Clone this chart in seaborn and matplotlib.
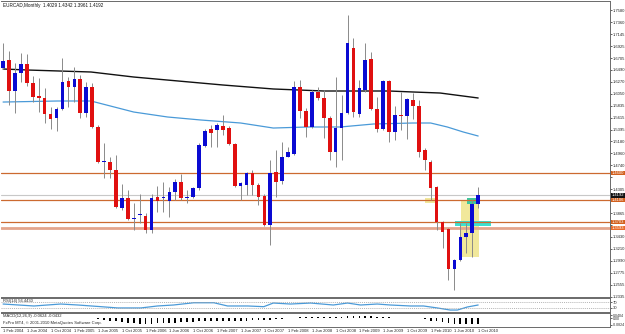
"""EURCAD monthly candlestick chart in the style of a MetaTrader window."""

import matplotlib

matplotlib.use("Agg")
import matplotlib.pyplot as plt
import numpy as np
import pandas as pd
import seaborn as sns
from matplotlib.patches import Rectangle

# Monthly candles, Feb 2004 .. Oct 2010
opens = [1.6523, 1.6670, 1.6102, 1.6431, 1.6596, 1.6248, 1.6010, 1.5974, 1.5680, 1.5607,
         1.5772, 1.6285, 1.6175, 1.6322, 1.5699, 1.6175, 1.5443, 1.4802, 1.4802, 1.4655,
         1.3960, 1.4141, 1.3758, 1.3831, 1.3813, 1.3557, 1.4161, 1.4141, 1.4088, 1.4252,
         1.4436, 1.4141, 1.4161, 1.4326, 1.5095, 1.5406, 1.5388, 1.5461, 1.5424, 1.5131,
         1.4356, 1.4381, 1.4600, 1.4381, 1.4179, 1.3648, 1.4619, 1.4454, 1.4893, 1.4948,
         1.6175, 1.5735, 1.5443, 1.6084, 1.5974, 1.5607, 1.4985, 1.5424, 1.5699, 1.6889,
         1.5680, 1.6120, 1.6688, 1.5772, 1.5406, 1.6285, 1.5351, 1.5662, 1.5644, 1.5937,
         1.5827, 1.5022, 1.4802, 1.4344, 1.3703, 1.3575, 1.2843, 1.3007, 1.3428, 1.3501,
         1.4029]
highs = [1.6981, 1.6834, 1.6615, 1.6798, 1.6779, 1.6376, 1.6340, 1.6157, 1.5809, 1.5809,
         1.6706, 1.6358, 1.6541, 1.6395, 1.6267, 1.6248, 1.5479, 1.5150, 1.4893, 1.4930,
         1.4399, 1.4289, 1.4051, 1.4216, 1.3868, 1.4216, 1.4356, 1.4436, 1.4344, 1.4490,
         1.4582, 1.4289, 1.4344, 1.5150, 1.5406, 1.5479, 1.5516, 1.5662, 1.5461, 1.5150,
         1.4436, 1.4619, 1.4655, 1.4417, 1.4216, 1.4838, 1.5022, 1.5168, 1.5077, 1.6285,
         1.6303, 1.5790, 1.6120, 1.6175, 1.6120, 1.5644, 1.6358, 1.6029, 1.7493, 1.7072,
         1.6303, 1.6981, 1.6816, 1.5992, 1.6303, 1.6303, 1.5827, 1.6084, 1.5974, 1.6065,
         1.5937, 1.5059, 1.4838, 1.4356, 1.3720, 1.3593, 1.3026, 1.3685, 1.3685, 1.4106,
         1.4342]
lows = [1.6505, 1.5845, 1.5699, 1.6267, 1.6193, 1.5900, 1.5717, 1.5516, 1.5406, 1.5369,
        1.5754, 1.5809, 1.5900, 1.5607, 1.5626, 1.5424, 1.4783, 1.4509, 1.4509, 1.3960,
        1.3923, 1.3740, 1.3557, 1.3685, 1.3501, 1.3501, 1.3886, 1.3886, 1.3795, 1.4106,
        1.4106, 1.4051, 1.4141, 1.4289, 1.5077, 1.5077, 1.5077, 1.5296, 1.5113, 1.4344,
        1.4106, 1.4198, 1.4198, 1.4015, 1.3630, 1.3282, 1.4161, 1.4399, 1.4893, 1.4930,
        1.5607, 1.5260, 1.5424, 1.5937, 1.5241, 1.4838, 1.4710, 1.4838, 1.5680, 1.5626,
        1.5626, 1.6084, 1.5754, 1.5351, 1.5388, 1.5168, 1.5205, 1.5388, 1.5223, 1.5589,
        1.4893, 1.4655, 1.4106, 1.3557, 1.3227, 1.2641, 1.2458, 1.2990, 1.3135, 1.3062,
        1.3961]
closes = [1.6651, 1.6102, 1.6431, 1.6596, 1.6248, 1.5992, 1.5974, 1.5680, 1.5589, 1.5772,
          1.6267, 1.6175, 1.6322, 1.5699, 1.6175, 1.5443, 1.4802, 1.4820, 1.4655, 1.3978,
          1.4141, 1.3758, 1.3770, 1.3840, 1.3557, 1.4141, 1.4088, 1.4150, 1.4252, 1.4436,
          1.4141, 1.4161, 1.4326, 1.5113, 1.5369, 1.5333, 1.5479, 1.5388, 1.5131, 1.4356,
          1.4417, 1.4600, 1.4381, 1.4161, 1.3648, 1.4600, 1.4436, 1.4893, 1.4985, 1.6175,
          1.5735, 1.5443, 1.6084, 1.5974, 1.5607, 1.4985, 1.5424, 1.5699, 1.6981, 1.5717,
          1.6157, 1.6670, 1.5772, 1.5406, 1.6285, 1.5351, 1.5662, 1.5644, 1.5955, 1.5827,
          1.4985, 1.4838, 1.4326, 1.3703, 1.3520, 1.2843, 1.3007, 1.3428, 1.3501, 1.4033,
          1.4192]

# moving averages, read at a few points along each line (candle index, price)
ma_slow_idx = [0, 4.2, 14.8, 22, 33.3, 37, 45.5, 54, 65, 69, 73.6, 80]
ma_slow = [1.6505, 1.6486, 1.6450, 1.6358, 1.6248, 1.6212, 1.6139, 1.6102, 1.6102, 1.6084,
           1.6065, 1.5974]
ma_fast_idx = [0, 9.2, 14.8, 22, 27.7, 33.3, 40, 45.5, 51.3, 56.8, 62.4, 69, 72, 74.8, 77.5, 80]
ma_fast = [1.5900, 1.5919, 1.5919, 1.5717, 1.5626, 1.5571, 1.5516, 1.5424, 1.5443, 1.5443,
           1.5498, 1.5516, 1.5516, 1.5443, 1.5351, 1.5278]

# oscillator in the middle panel
rsi_idx = [0, 5.2, 9.7, 12.6, 16.5, 19.3, 23.2, 26, 28.7, 32.1, 35.5, 37.8, 41.2, 43.9, 45.5,
           48.4, 51.8, 55.6, 58, 60.2, 63, 65.2, 68.6, 70.8, 73.1, 75.3, 76.5, 78.2, 80]
rsi = [57, 43, 57, 50, 38, 29, 29, 43, 50, 66, 66, 43, 43, 38, 64, 57, 64, 50, 64, 50, 57,
       50, 43, 43, 29, 14, 14, 36, 50]

# histogram in the bottom panel, one bar per candle
hist = [0.004, 0.004, 0.004, 0.004, 0.004, 0.003, 0.003, 0.002, 0.002, 0.003,
        0.003, 0.003, 0.002, 0.002, 0.002, 0.001, -0.01, -0.02, -0.03, -0.04,
        -0.05, -0.06, -0.06, -0.07, -0.07, -0.07, -0.06, -0.06, -0.06, -0.06,
        -0.05, -0.05, -0.05, -0.04, -0.04, -0.03, -0.03, -0.03, -0.03, -0.03,
        -0.03, -0.03, -0.02, -0.02, -0.02, -0.02, -0.01, -0.01, 0.005, 0.01,
        0.02, 0.02, 0.02, 0.02, 0.02, 0.02, 0.02, 0.02, 0.03, 0.03,
        0.03, 0.03, 0.03, 0.02, 0.02, 0.02, 0.01, 0.005, 0.003, 0.002,
        0.001, -0.01, -0.03, -0.04, -0.05, -0.06, -0.07, -0.07, -0.07, -0.07,
        -0.07]
hist_ticks = [0.0404, 0.0, -0.0824]
hist_tick_labels = ["0.0404", "0.00", "-0.0824"]

date_labels = ["1 Feb 2004", "1 Jun 2004", "1 Oct 2004", "1 Feb 2005", "1 Jun 2005",
               "1 Oct 2005", "1 Feb 2006", "1 Jun 2006", "1 Oct 2006", "1 Feb 2007",
               "1 Jun 2007", "1 Oct 2007", "1 Feb 2008", "1 Jun 2008", "1 Oct 2008",
               "1 Feb 2009", "1 Jun 2009", "1 Oct 2009", "1 Feb 2010", "1 Jun 2010",
               "1 Oct 2010"]
price_ticks = [1.7580, 1.7360, 1.7145, 1.6925, 1.6705, 1.6490, 1.6270, 1.6050, 1.5835,
               1.5615, 1.5395, 1.5180, 1.4960, 1.4740, 1.4520, 1.4305, 1.4085, 1.3865,
               1.3650, 1.3430, 1.3210, 1.2990, 1.2775, 1.2555, 1.2335]

# support / resistance levels drawn by hand on the chart
levels = [1.4600, 1.4106, 1.3703]
level_soft = 1.3593
bid = 1.4192

sns.set_theme(style="white")
plt.rcParams["font.family"] = ["Liberation Sans", "DejaVu Sans"]
FS = 3.0

frame = pd.DataFrame({"open": opens, "high": highs, "low": lows, "close": closes})
frame["idx"] = np.arange(len(frame))
frame["up"] = frame["close"] >= frame["open"]

fig = plt.figure(figsize=(6.25, 3.34), dpi=100)
W, H = 625, 334


def panel(top, bottom):
    return fig.add_axes([1 / W, 1 - bottom / H, 609 / W, (bottom - top) / H])


ax = panel(1, 297)
ax_rsi = panel(298, 312)
ax_h = panel(313, 327)

XMIN, XMAX = -0.35, 102.2
YMIN, YMAX = 1.2330, 1.7750
wick_c = "#8a8a8a"
up_c, dn_c = "#0a0ad2", "#e01010"

# highlight boxes (behind candles)
ax.add_patch(Rectangle((77.1, 1.3062), 3.1, 1.4106 - 1.3062, fc="#efe48a", ec="none", alpha=0.85, zorder=1))
ax.add_patch(Rectangle((71.1, 1.4051), 1.7, 1.4141 - 1.4051, fc="#efe48a", ec="none", alpha=0.85, zorder=1))
ax.add_patch(Rectangle((76.1, 1.3630), 6.1, 1.3721 - 1.3630, fc="#3de0d0", ec="none", zorder=1))
ax.add_patch(Rectangle((78.2, 1.4033), 1.7, 1.4141 - 1.4033, fc="#3cc8a0", ec="none", zorder=1))

# horizontal levels
for lv in levels:
    ax.axhline(lv, color="#cc6a30", lw=0.9, zorder=2)
ax.axhline(level_soft, color="#e3a58c", lw=2.0, zorder=2)
ax.axhline(bid, color="#c8c8c8", lw=0.8, zorder=2)

# moving averages
sns.lineplot(x=ma_slow_idx, y=ma_slow, ax=ax, color="#111111", lw=1.0, zorder=3)
sns.lineplot(x=ma_fast_idx, y=ma_fast, ax=ax, color="#4a9ad8", lw=0.9, zorder=3)

# candles
ax.vlines(frame["idx"], frame["low"], frame["high"], color=wick_c, lw=0.7, zorder=4)
body = (frame["close"] - frame["open"]).abs().clip(lower=0.0012)
base = frame[["open", "close"]].min(axis=1)
ax.bar(frame["idx"], body, bottom=base, width=0.62,
       color=np.where(frame["up"], up_c, dn_c), edgecolor="none", zorder=5)

ax.set_xlim(XMIN, XMAX)
ax.set_ylim(YMIN, YMAX)
ax.set_xticks([])
ax.yaxis.tick_right()
ax.set_yticks(price_ticks)

# the coloured tags cover the scale labels they sit on, as in the terminal
tags = [(levels[0], "#d2601e"), (levels[1], "#d2601e"), (levels[2], "#d2601e"),
        (level_soft, "#e86a2a"), (bid, "#111111")]
px_per_unit = 296 / (YMAX - YMIN)
ax.set_yticklabels([
    "" if min(abs(t - v) for v, _ in tags) * px_per_unit < 4.5 else f"{t:.4f}"
    for t in price_ticks
])
ax.tick_params(axis="y", labelsize=FS, length=1.5, width=0.5, pad=0.6, colors="#222222")
ax.text(0.003, 0.994, "EURCAD,Monthly  1.4029 1.4342 1.3961 1.4192", transform=ax.transAxes,
        fontsize=FS + 0.3, va="top", ha="left", color="#111111")

trans = ax.get_yaxis_transform()
for val, col in tags:
    ax.text(1.003, val, f"{val:.4f}", transform=trans, fontsize=FS, color="white",
            va="center", ha="left", clip_on=False, zorder=10,
            bbox=dict(fc=col, ec="none", pad=0.25))

# RSI panel
sns.lineplot(x=rsi_idx, y=rsi, ax=ax_rsi, color="#4a9ad8", lw=0.9)
for lv in (70, 30):
    ax_rsi.axhline(lv, color="#9a9a9a", lw=0.5, ls=(0, (1.5, 1.5)))
ax_rsi.set_xlim(XMIN, XMAX)
ax_rsi.set_ylim(0, 100)
ax_rsi.set_xticks([])
ax_rsi.yaxis.tick_right()
ax_rsi.set_yticks([70, 30])
ax_rsi.set_yticklabels(["70", "30"])
ax_rsi.tick_params(axis="y", labelsize=FS, length=1.5, width=0.5, pad=0.6)
ax_rsi.text(0.003, 0.95, "RSI(14) 56.4430", transform=ax_rsi.transAxes, fontsize=FS,
            va="top", ha="left")

# histogram panel
ax_h.bar(frame["idx"], hist, width=0.3, color="#000000", edgecolor="none")
ax_h.set_xlim(XMIN, XMAX)
ax_h.set_ylim(-0.1145, 0.074)
ax_h.yaxis.tick_right()
ax_h.set_yticks(hist_ticks)
ax_h.set_yticklabels(hist_tick_labels)
ax_h.tick_params(axis="y", labelsize=2.5, length=1.5, width=0.5, pad=0.6)
ax_h.set_xticks(frame["idx"][::4])
ax_h.set_xticklabels(date_labels, fontsize=FS, ha="left")
ax_h.tick_params(axis="x", length=1.5, width=0.5, pad=0.3)
ax_h.text(0.003, 0.95, "MACD(12,26,9) -0.0624 -0.0432", transform=ax_h.transAxes,
          fontsize=FS, va="top", ha="left")
ax_h.text(0.003, 0.42, "FxPro MT4, \u00a9 2001-2010 MetaQuotes Software Corp.",
          transform=ax_h.transAxes, fontsize=FS, va="top", ha="left")

for a in (ax, ax_rsi, ax_h):
    for s in a.spines.values():
        s.set_color("#6a6a6a")
        s.set_linewidth(0.7)
    a.spines["left"].set_visible(False)

fig.savefig("out.png", dpi=100)
